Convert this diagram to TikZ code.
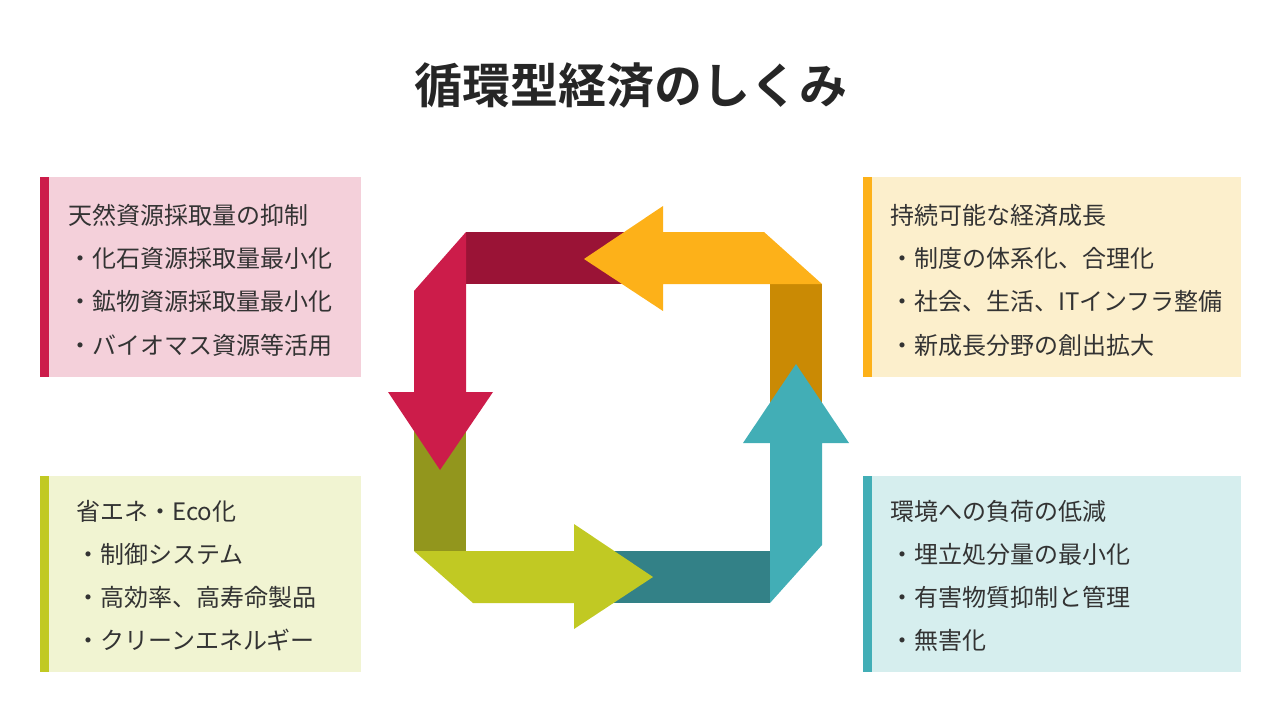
\documentclass[tikz,border=0pt]{standalone}
\usepackage{fontspec}
\setmainfont{Noto Sans CJK JP}[BoldFont={Noto Sans CJK JP Bold}]
\usepackage{tikz}

\definecolor{crimson}{HTML}{CC1C4A}
\definecolor{winered}{HTML}{9A1336}
\definecolor{amber}{HTML}{FDB119}
\definecolor{darkgold}{HTML}{CA8A04}
\definecolor{teal}{HTML}{42AEB6}
\definecolor{darkteal}{HTML}{338187}
\definecolor{lime}{HTML}{C1C923}
\definecolor{olive}{HTML}{92961D}
\definecolor{pinkbg}{HTML}{F4D0DA}
\definecolor{creambg}{HTML}{FCEFCC}
\definecolor{limebg}{HTML}{F1F4D2}
\definecolor{tealbg}{HTML}{D6EEEE}
\definecolor{textgray}{HTML}{333333}

\begin{document}
\begin{tikzpicture}[x=1pt,y=1pt,yscale=-1,xscale=1,
  boxtext/.style={anchor=west,inner sep=0pt,text=textgray,font=\fontsize{24}{29}\selectfont},
  titletext/.style={inner sep=0pt,text=black!85,font=\fontsize{48}{58}\selectfont\bfseries}]
\useasboundingbox (0,0) rectangle (1280,720);

% Title
\node [titletext] (title) at (631,85) {循環型経済のしくみ};

%Shape: Rectangle [top left]
\fill [pinkbg] (40,177) rectangle (361,377);
\fill [crimson] (40,177) rectangle (49,377);
%Shape: Rectangle [top right]
\fill [creambg] (863,177) rectangle (1241,377);
\fill [amber] (863,177) rectangle (872,377);
%Shape: Rectangle [bottom left]
\fill [limebg] (40,476) rectangle (361,672);
\fill [lime] (40,476) rectangle (49,672);
%Shape: Rectangle [bottom right]
\fill [tealbg] (863,476) rectangle (1241,672);
\fill [teal] (863,476) rectangle (872,672);

%Shape: Dark bands
\fill [winered] (466,232) rectangle (663,284);
\fill [olive] (414,392) rectangle (466,551);
\fill [darkteal] (574,551) rectangle (770,603);
\fill [darkgold] (770,284) rectangle (822,443);

%Shape: Arrow [down]
\fill [crimson] (466,232) -- (414,291) -- (414,392) -- (388,392) -- (440,470)
  -- (493,392) -- (466,392) -- cycle;
%Shape: Arrow [right]
\fill [lime] (414,551) -- (473,603) -- (574,603) -- (574,629) -- (653,577)
  -- (574,524) -- (574,551) -- cycle;
%Shape: Arrow [up]
\fill [teal] (770,603) -- (822,545) -- (822,443) -- (849,443) -- (796,364)
  -- (743,443) -- (770,443) -- cycle;
%Shape: Arrow [left]
\fill [amber] (822,284) -- (764,232) -- (663,232) -- (663,206) -- (584,259)
  -- (663,311) -- (663,284) -- cycle;

% Text Node
\node [boxtext] (tl1) at (68,215) {天然資源採取量の抑制};
\node [boxtext] (tl2) at (68,258) {・化石資源採取量最小化};
\node [boxtext] (tl3) at (68,301) {・鉱物資源採取量最小化};
\node [boxtext] (tl4) at (68,345) {・バイオマス資源等活用};
% Text Node
\node [boxtext] (tr1) at (890,215) {持続可能な経済成長};
\node [boxtext] (tr2) at (890,258) {・制度の体系化、合理化};
\node [boxtext] (tr3) at (890,301) {・社会、生活、ITインフラ整備};
\node [boxtext] (tr4) at (890,345) {・新成長分野の創出拡大};
% Text Node
\node [boxtext] (bl1) at (76,511) {省エネ・Eco化};
\node [boxtext] (bl2) at (76,554) {・制御システム};
\node [boxtext] (bl3) at (76,597) {・高効率、高寿命製品};
\node [boxtext] (bl4) at (76,640) {・クリーンエネルギー};
% Text Node
\node [boxtext] (br1) at (890,511) {環境への負荷の低減};
\node [boxtext] (br2) at (890,554) {・埋立処分量の最小化};
\node [boxtext] (br3) at (890,597) {・有害物質抑制と管理};
\node [boxtext] (br4) at (890,640) {・無害化};

\end{tikzpicture}
\end{document}
